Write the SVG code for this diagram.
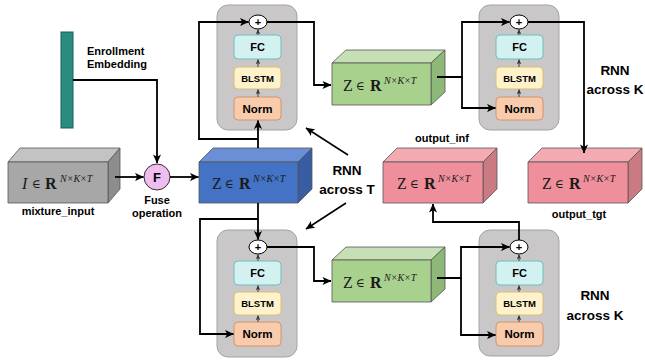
<svg xmlns="http://www.w3.org/2000/svg" width="645" height="362" viewBox="0 0 645 362">
<defs>
<marker id="arr" viewBox="0 0 10 10" refX="9.5" refY="5" markerWidth="9" markerHeight="9" markerUnits="userSpaceOnUse" orient="auto">
<path d="M0,0.5 L10,5 L0,9.5 L2.5,5 z" fill="#000"/>
</marker>
<marker id="sarr" viewBox="0 0 10 10" refX="9.5" refY="5" markerWidth="5" markerHeight="5" markerUnits="userSpaceOnUse" orient="auto">
<path d="M0,0.5 L10,5 L0,9.5 L2.5,5 z" fill="#333"/>
</marker>
</defs>
<style>
.lbl{font-family:"Liberation Sans",Arial,sans-serif;font-weight:bold;font-size:11px;fill:#000;text-anchor:middle}
.big{font-family:"Liberation Sans",Arial,sans-serif;font-weight:bold;font-size:13.5px;fill:#000;text-anchor:middle}
.box{font-family:"Liberation Sans",Arial,sans-serif;font-weight:bold;fill:#000;text-anchor:middle}
.m{font-family:"Liberation Serif","Times New Roman",serif;font-size:16px;fill:#1a1a1a}
.e{font-family:"DejaVu Serif",serif;font-size:12px;fill:#1a1a1a}
.b{font-weight:bold}
.i{font-style:italic}
.sup{font-family:"Liberation Serif","Times New Roman",serif;font-size:10px;font-style:italic;fill:#1a1a1a}
.cont{fill:#c9c7c8;stroke:#a3a3a3;stroke-width:1}
.fc{fill:#d4f1f2;stroke:#6cbfbf;stroke-width:1}
.bl{fill:#fef2cc;stroke:#dcc070;stroke-width:1}
.nm{fill:#f8cbad;stroke:#d4956b;stroke-width:1}
.plus{fill:#fff;stroke:#000;stroke-width:1}
.conn{fill:none;stroke:#000;stroke-width:1.8}
.sc{fill:none;stroke:#333;stroke-width:0.9}
.cs{stroke:#555;stroke-width:0.8;stroke-linejoin:round}
</style>

<g id="enrollment">
<rect x="61" y="32" width="12" height="96" fill="#2a8c80" stroke="#1d5e57" stroke-width="1"/>
<text class="lbl" x="87" y="55" style="text-anchor:start">Enrollment</text>
<text class="lbl" x="87" y="68" style="text-anchor:start">Embedding</text>
</g>

<g id="mixture_input">
<polygon class="cs" points="8,162 20,148 120,148 108,162" fill="#c3c3c3"/>
<polygon class="cs" points="108,162 120,148 120,189 108,203" fill="#8d8d8d"/>
<rect class="cs" x="8" y="162" width="100" height="41" fill="#a7a7a7"/>
<text class="m i" x="22" y="189">I</text>
<text class="e" x="32" y="188">∈</text>
<text class="m b" x="45" y="189">R</text>
<text class="sup" x="60" y="182">N×K×T</text>
<text class="lbl" x="58" y="215">mixture_input</text>
</g>

<g id="fuse">
<circle cx="157" cy="177" r="13" fill="#efbdf0" stroke="#333" stroke-width="1"/>
<text class="box" x="157" y="182" font-size="13">F</text>
<text class="lbl" x="157" y="204">Fuse</text>
<text class="lbl" x="157" y="217">operation</text>
</g>

<g id="z_blue">
<polygon class="cs" points="199,162 213,148 312,148 298,162" fill="#6b8fd6"/>
<polygon class="cs" points="298,162 312,148 312,189 298,203" fill="#385da3"/>
<rect class="cs" x="199" y="162" width="99" height="41" fill="#4472c4"/>
<text class="m" x="212" y="189">Z</text>
<text class="e" x="225" y="188">∈</text>
<text class="m b" x="239" y="189">R</text>
<text class="sup" x="253" y="182">N×K×T</text>
</g>

<g id="rnnT_top">
<rect class="cont" x="217" y="5" width="80" height="125" rx="11"/>
<ellipse class="plus" cx="258" cy="22" rx="9" ry="7"/>
<text class="box" x="258" y="26" font-size="11">+</text>
<rect class="fc" x="234" y="35" width="47" height="24" rx="4"/>
<text class="box" x="257.5" y="51" font-size="11">FC</text>
<rect class="bl" x="234" y="67" width="47" height="22" rx="4"/>
<text class="box" x="257.5" y="82" font-size="9.5">BLSTM</text>
<rect class="nm" x="234" y="97" width="47" height="23" rx="4"/>
<text class="box" x="257.5" y="113" font-size="11.5">Norm</text>
<path class="sc" d="M258,97 V89.5" marker-end="url(#sarr)"/>
<path class="sc" d="M258,67 V59.5" marker-end="url(#sarr)"/>
<path class="sc" d="M258,35 V29.5" marker-end="url(#sarr)"/>
</g>

<g id="z_green_top">
<polygon class="cs" points="332,63 346,50 445,50 431,63" fill="#c5e0b4"/>
<polygon class="cs" points="431,63 445,50 445,92 431,105" fill="#8db878"/>
<rect class="cs" x="332" y="63" width="99" height="42" fill="#a9d18e"/>
<text class="m" x="343" y="91">Z</text>
<text class="e" x="356" y="90">∈</text>
<text class="m b" x="370" y="91">R</text>
<text class="sup" x="384" y="84">N×K×T</text>
</g>

<g id="rnnK_top">
<rect class="cont" x="479" y="5" width="80" height="125" rx="11"/>
<ellipse class="plus" cx="519" cy="22" rx="9" ry="7"/>
<text class="box" x="519" y="26" font-size="11">+</text>
<rect class="fc" x="496" y="35" width="47" height="24" rx="4"/>
<text class="box" x="519.5" y="51" font-size="11">FC</text>
<rect class="bl" x="496" y="67" width="47" height="22" rx="4"/>
<text class="box" x="519.5" y="82" font-size="9.5">BLSTM</text>
<rect class="nm" x="496" y="97" width="47" height="23" rx="4"/>
<text class="box" x="519.5" y="113" font-size="11.5">Norm</text>
<path class="sc" d="M519,97 V89.5" marker-end="url(#sarr)"/>
<path class="sc" d="M519,67 V59.5" marker-end="url(#sarr)"/>
<path class="sc" d="M519,35 V29.5" marker-end="url(#sarr)"/>
<text class="big" x="615" y="75">RNN</text>
<text class="big" x="615" y="94">across K</text>
</g>

<g id="output_inf">
<polygon class="cs" points="383,162 397,148 497,148 483,162" fill="#f3aab2"/>
<polygon class="cs" points="483,162 497,148 497,189 483,203" fill="#c97a82"/>
<rect class="cs" x="383" y="162" width="100" height="41" fill="#ef8f9b"/>
<text class="m" x="397" y="189">Z</text>
<text class="e" x="410" y="188">∈</text>
<text class="m b" x="424" y="189">R</text>
<text class="sup" x="438" y="182">N×K×T</text>
<text class="lbl" x="442" y="142">output_inf</text>
</g>

<g id="output_tgt">
<polygon class="cs" points="528,162 542,148 642,148 628,162" fill="#f3aab2"/>
<polygon class="cs" points="628,162 642,148 642,189 628,203" fill="#c97a82"/>
<rect class="cs" x="528" y="162" width="100" height="41" fill="#ef8f9b"/>
<text class="m" x="542" y="189">Z</text>
<text class="e" x="555" y="188">∈</text>
<text class="m b" x="569" y="189">R</text>
<text class="sup" x="583" y="182">N×K×T</text>
<text class="lbl" x="579" y="218">output_tgt</text>
</g>

<g id="rnnT_label">
<text class="big" x="347" y="175">RNN</text>
<text class="big" x="347" y="194">across T</text>
</g>

<g id="rnnT_bottom">
<rect class="cont" x="217" y="230" width="80" height="127" rx="11"/>
<ellipse class="plus" cx="258" cy="247" rx="9" ry="7"/>
<text class="box" x="258" y="251" font-size="11">+</text>
<rect class="fc" x="234" y="261" width="47" height="24" rx="4"/>
<text class="box" x="257.5" y="277" font-size="11">FC</text>
<rect class="bl" x="234" y="292" width="47" height="23" rx="4"/>
<text class="box" x="257.5" y="307" font-size="9.5">BLSTM</text>
<rect class="nm" x="234" y="322" width="47" height="24" rx="4"/>
<text class="box" x="257.5" y="338" font-size="11.5">Norm</text>
<path class="sc" d="M258,322 V315.5" marker-end="url(#sarr)"/>
<path class="sc" d="M258,292 V285.5" marker-end="url(#sarr)"/>
<path class="sc" d="M258,261 V254.5" marker-end="url(#sarr)"/>
</g>

<g id="z_green_bottom">
<polygon class="cs" points="332,260 346,247 445,247 431,260" fill="#c5e0b4"/>
<polygon class="cs" points="431,260 445,247 445,289 431,302" fill="#8db878"/>
<rect class="cs" x="332" y="260" width="99" height="42" fill="#a9d18e"/>
<text class="m" x="343" y="288">Z</text>
<text class="e" x="356" y="287">∈</text>
<text class="m b" x="370" y="288">R</text>
<text class="sup" x="384" y="281">N×K×T</text>
</g>

<g id="rnnK_bottom">
<rect class="cont" x="479" y="230" width="80" height="126" rx="11"/>
<ellipse class="plus" cx="519" cy="247" rx="9" ry="7"/>
<text class="box" x="519" y="251" font-size="11">+</text>
<rect class="fc" x="496" y="261" width="47" height="24" rx="4"/>
<text class="box" x="519.5" y="277" font-size="11">FC</text>
<rect class="bl" x="496" y="292" width="47" height="23" rx="4"/>
<text class="box" x="519.5" y="307" font-size="9.5">BLSTM</text>
<rect class="nm" x="496" y="322" width="47" height="24" rx="4"/>
<text class="box" x="519.5" y="338" font-size="11.5">Norm</text>
<path class="sc" d="M519,322 V315.5" marker-end="url(#sarr)"/>
<path class="sc" d="M519,292 V285.5" marker-end="url(#sarr)"/>
<path class="sc" d="M519,261 V254.5" marker-end="url(#sarr)"/>
<text class="big" x="595" y="300">RNN</text>
<text class="big" x="595" y="320">across K</text>
</g>

<g id="connectors">
<path class="conn" d="M73,80 H157 V163" marker-end="url(#arr)"/>
<path class="conn" d="M115,177 H143.5" marker-end="url(#arr)"/>
<path class="conn" d="M170,177 H198.5" marker-end="url(#arr)"/>
<path class="conn" d="M258,148 V120.5" marker-end="url(#arr)"/>
<path class="conn" d="M258,139 H199 V22 H248.5" marker-end="url(#arr)"/>
<path class="conn" d="M267,22 H314 V85 H331" marker-end="url(#arr)"/>
<path class="conn" d="M437,77 H462 V22 H509.5" marker-end="url(#arr)"/>
<path class="conn" d="M462,77 V108 H495.5" marker-end="url(#arr)"/>
<path class="conn" d="M528,22 H584 V153" marker-end="url(#arr)"/>
<path class="conn" d="M258,203 V239.5" marker-end="url(#arr)"/>
<path class="conn" d="M258,219 H200 V334 H233.5" marker-end="url(#arr)"/>
<path class="conn" d="M267,247 H314 V281 H331" marker-end="url(#arr)"/>
<path class="conn" d="M437,278 H461 V247 H509.5" marker-end="url(#arr)"/>
<path class="conn" d="M461,278 V335 H495.5" marker-end="url(#arr)"/>
<path class="conn" d="M519,240 V222 H433 V204" marker-end="url(#arr)"/>
<path class="conn" style="stroke-width:1.6" d="M348,155 L306,128" marker-end="url(#arr)"/>
<path class="conn" style="stroke-width:1.6" d="M346,203 L306,229" marker-end="url(#arr)"/>
</g>
</svg>
